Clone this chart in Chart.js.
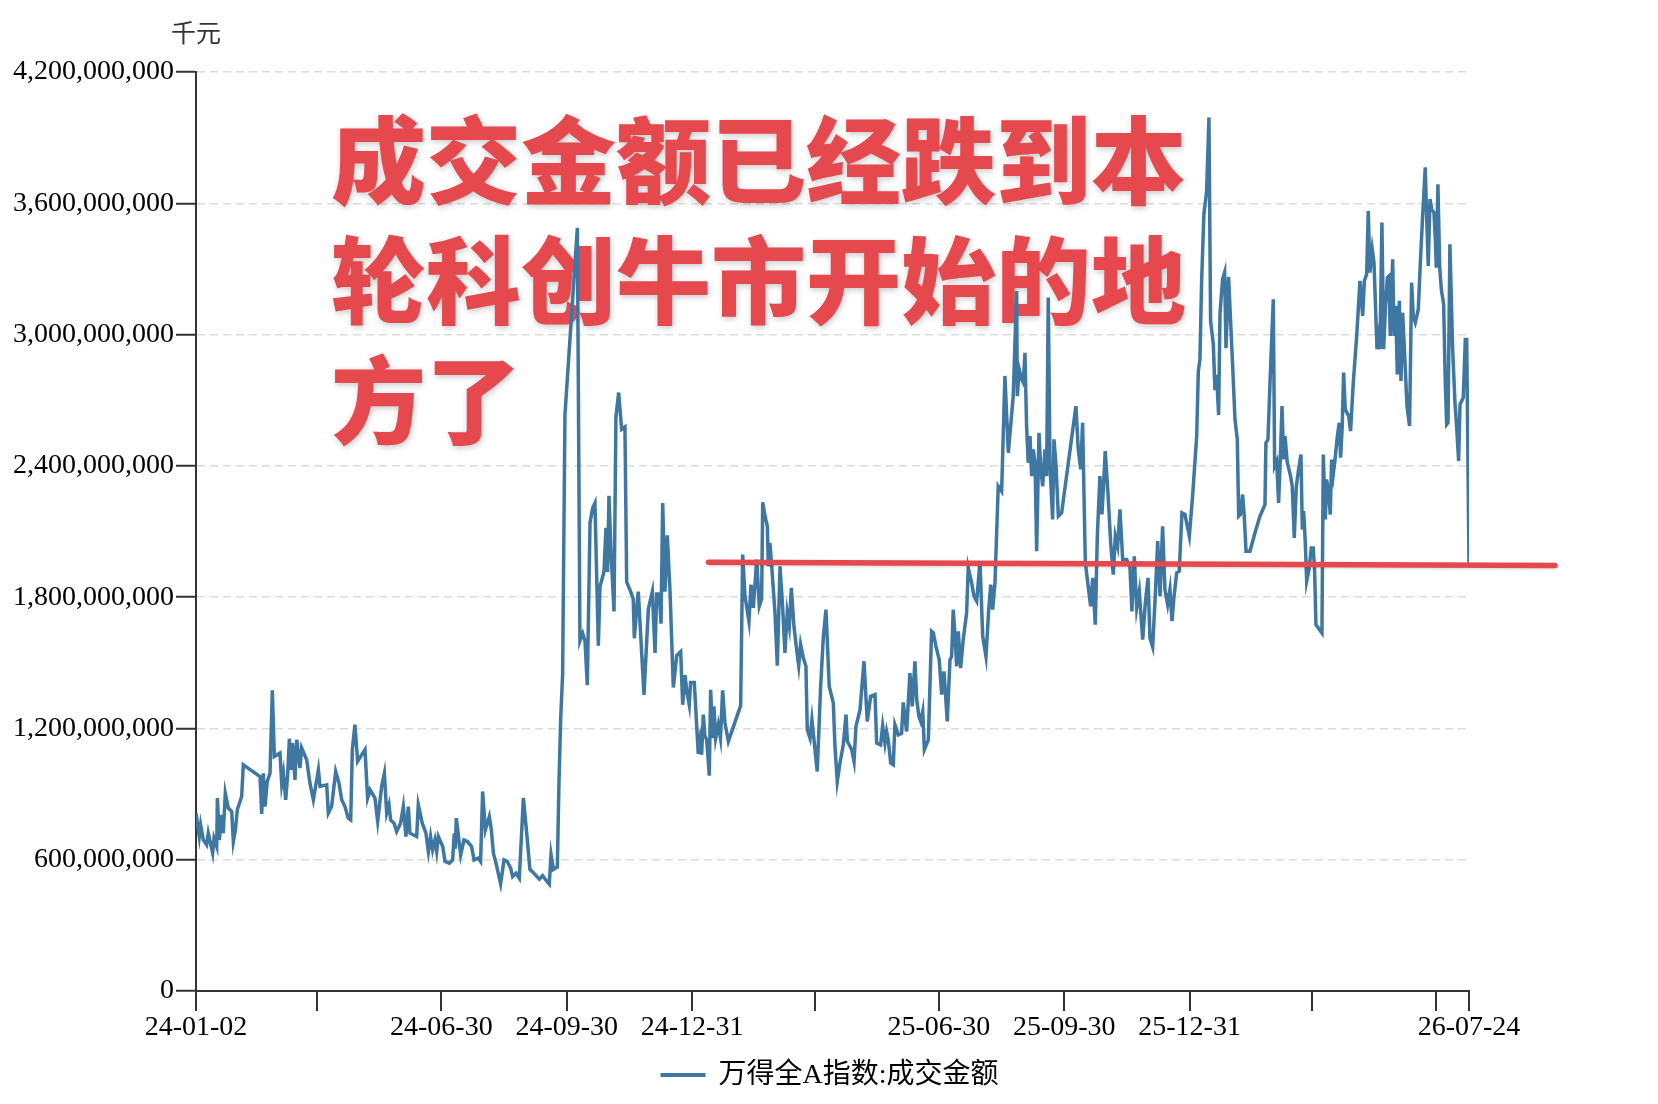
<!DOCTYPE html>
<html>
<head>
<meta charset="utf-8">
<script src="https://cdn.jsdelivr.net/npm/chart.js@4.4.1/dist/chart.umd.min.js"></script>
<style>
html,body{margin:0;padding:0;background:#ffffff;}
#wrap{width:1658px;height:1104px;position:relative;}
</style>
</head>
<body>
<div id="wrap"><canvas id="c" width="1658" height="1104"></canvas></div>
<script>
// ---- data (x = calendar days since 2024-01-02, y = 千元) ----
const startDate = '2024-01-02';
const tradeDays = [
0,2.4,3.4,5.4,7.8,9,12.2,13.2,15.2,15.7,17.1,18.8,20,21.5,23.7,26.2,27.4,28.9,30.3,33.5,34.7,47,48.2,49.4,50.6,52.3,54.3,56,57.5,61.6,62.9,64.1,65.8,67.3,68.5,69.7,70.9,72.6,73.9,76.3,77.5,81.2,83.6,86.1,89.8,91,95.9,97.1,99.5,102.5,104.9,106.9,109.3,111.7,113.5,114.7,116.6,118.6,124,125.9,127.7,131.3,133.3,136.2,138.2,139.9,141.6,142.8,145.3,147.2,150.1,152.1,154,155.8,157,161.9,163.1,166,168.7,170.5,172.1,173.6,175.3,176.6,177.8,181,182.7,185.9,188.3,189.5,190.3,191,194.2,196.6,199.1,202.2,204,207.1,208.8,210.3,212.3,215.2,216.7,218.2,220.1,223.5,226,228.4,230.9,232.3,234.8,237.2,
240.2,242.6,245,248.7,251.9,254.3,256.8,259.2,260.5,262.2,265.1,266.3,267.6,269,270.7,279.8,281.7,283.7,285.4,287.1,289.1,291,292.7,295.2,296.4,299.3,300.8,302,303,304.5,306.7,308.1,310.1,312.3,314.7,316,318.9,320.8,321.6,323.3,324.5,326.3,328.7,330.7,331.9,334.8,336.8,338,339.9,341.2,342.4,344.1,345.8,347.8,350.2,352.7,355.6,357.1,358.8,360,361.9,362.9,365.6,368.5,
369.8,371,372.2,373.4,374.7,376.6,377.6,379.1,380,381.3,383.2,384.8,386.4,388.1,390.6,399.6,401.1,402.8,405.7,407.2,408.9,411.4,413.3,415,415.8,417.5,419.2,419.9,421.1,422.4,424.8,426.5,428.5,430.4,432.1,433.8,435.3,436.8,438.7,440.7,442.2,443.6,445.6,447.5,448.5,450.5,451.9,455.8,458.3,460.3,462.2,464.6,467.6,468.8,470.5,472.5,474.9,476.9,477.9,481.1,482.8,484.2,487.2,490.1,492.5,495,498.2,499.4,502.3,503.8,505.5,506.7,507.9,509.7,511.6,512.8,515.3,517.7,518.9,521.4,523.8,525.5,527.5,528.8,530.4,531.7,533.2,534.4,537.3,539.7,541,542.9,545.3,547.1,548.8,551.2,553.2,554.4,555.6,556.9,558.1,559.3,561,562.9,565.4,566.6,569.1,570.8,572.8,575.2,577.2,579.6,581.6,583.1,584.5,586.2,588.6,
591.1,593.5,596,599.6,602.1,602.6,604,605.8,607,608.2,609.4,610.6,611.9,613.1,614.3,615.6,616.8,618.5,619.7,621.2,622.9,624.1,625.3,626.6,628.5,629.5,631,632.7,635.1,645.6,647.3,649.1,650.5,652.5,656.4,657.9,659.8,661.3,663.2,664.7,666.2,667.1,669.1,671.1,673,674.5,676.2,677.9,679.9,682.8,685.2,686.7,688.4,690.2,692.1,694.6,696.5,698.5,699.9,701.9,703.8,705.6,707.3,709.2,710.9,712.9,714.6,716.1,717.5,719.5,721.4,723.4,725.6,728.8,731.2,734.2,735.4,736.6,737.8,
739.5,741.5,743.2,744.4,746.4,747.6,748.8,750.3,751.3,753.2,754.7,755.7,757.6,
760.6,762.3,764,765,766.2,767.9,769.1,770.4,773.3,777,780.6,784.3,785,786.5,788,790.4,791.4,792.9,794.3,795.6,796.8,798,799,800.7,803.1,804.3,805.8,807.3,809,810.7,811.7,812.7,813.9,814.9,816.6,818.3,819.7,820.7,821.7,824.2,826.1,827.1,828.6,829.5,831,832.2,833.2,834.4,835.7,837.4,838.8,839.8,841,842,843.2,845.7,847.1,849.1,851.6,854,856,857.2,858.9,860.1,861.3,863,864.3,866.5,867.7,868.7,870.1,871.4,872.6,874.1,875.3,876.2,878,879,880.2,881.4,882.9,884.1,885.3,886.5,888.5,890.4,891.9,893.1,894.6,896.8,898.3,900,901.9,902.9,904.1,905.4,906.6,908.3,909.3,910,911.2,912.5,913.7,915.4,916.6,917.6,918.6,920,922,923.7,924.9,926.4,927.4,929.8,931.3,932.3,934
];
const turnover = [
813000000,706000000,759000000,690000000,668000000,721000000,630000000,698000000,660000000,882000000,690000000,805000000,721000000,904000000,836000000,820000000,683000000,736000000,828000000,889000000,1034000000,980000000,809000000,995000000,843000000,958000000,995000000,1374000000,1072000000,1088000000,947000000,995000000,874000000,995000000,1153000000,1011000000,1133000000,965000000,1148000000,1019000000,1111000000,1057000000,950000000,874000000,1011000000,935000000,942000000,813000000,843000000,1003000000,950000000,874000000,843000000,790000000,782000000,1103000000,1217000000,1050000000,1103000000,882000000,920000000,882000000,775000000,935000000,995000000,813000000,851000000,782000000,767000000,729000000,767000000,843000000,706000000,843000000,721000000,706000000,851000000,767000000,721000000,637000000,706000000,645000000,690000000,637000000,706000000,660000000,592000000,584000000,599000000,720000000,650000000,790000000,622000000,690000000,683000000,660000000,599000000,607000000,592000000,912000000,736000000,797000000,736000000,630000000,584000000,490000000,599000000,592000000,561000000,523000000,538000000,515000000,
882000000,724000000,556000000,533000000,511000000,527000000,506000000,488000000,623000000,556000000,567000000,950000000,1250000000,1450000000,2634000000,3488000000,1600000000,1634000000,1600000000,1398000000,2140000000,2207000000,2230000000,1578000000,1848000000,1915000000,2117000000,1915000000,2263000000,2005000000,1735000000,2623000000,2735000000,2567000000,2578000000,1870000000,1825000000,1792000000,1612000000,1747000000,1825000000,1623000000,1353000000,1600000000,1747000000,1825000000,1545000000,1814000000,1814000000,1679000000,2230000000,1825000000,2083000000,1825000000,1387000000,1533000000,1551000000,1308000000,1443000000,1375000000,1308000000,1410000000,1410000000,1084000000,
1148000000,1080000000,1263000000,1164000000,1148000000,984000000,1377000000,1155000000,1301000000,1155000000,1217000000,1155000000,1374000000,1225000000,1141000000,1304000000,1995000000,1804000000,1690000000,1857000000,1751000000,1972000000,1759000000,1792000000,2234000000,2170000000,2124000000,1941000000,2048000000,1941000000,1728000000,1487000000,1941000000,1758000000,1545000000,1728000000,1667000000,1842000000,1667000000,1560000000,1487000000,1583000000,1522000000,1484000000,1194000000,1155000000,1240000000,1003000000,1392000000,1621000000,1743000000,1392000000,1316000000,1118000000,958000000,1042000000,1125000000,1263000000,1141000000,1103000000,1049000000,1209000000,1286000000,1507000000,1232000000,1347000000,1355000000,1133000000,1125000000,1212000000,1133000000,1186000000,1148000000,1042000000,1034000000,1217000000,1171000000,1178000000,1319000000,1186000000,1453000000,1301000000,1507000000,1331000000,1255000000,1232000000,1278000000,1103000000,1148000000,1644000000,1637000000,1575000000,1514000000,1355000000,1461000000,1232000000,1514000000,1529000000,1743000000,1621000000,1484000000,1644000000,1476000000,1606000000,1728000000,1934000000,1865000000,1804000000,1781000000,1964000000,1621000000,1529000000,1743000000,1857000000,1743000000,1865000000,2307000000,
2284000000,2811000000,2460000000,2719000000,3199000000,2719000000,2841000000,2795000000,2780000000,2917000000,2582000000,2414000000,2536000000,2353000000,2475000000,2414000000,2010000000,2551000000,2399000000,2307000000,2475000000,2353000000,3169000000,2399000000,2155000000,2521000000,2399000000,2170000000,2185000000,2673000000,2475000000,2384000000,2597000000,1957000000,1758000000,1888000000,1674000000,2079000000,2353000000,2178000000,2353000000,2467000000,2277000000,2048000000,1903000000,2079000000,2033000000,2201000000,1972000000,1972000000,1941000000,1735000000,1987000000,1751000000,1827000000,1606000000,1774000000,1888000000,1613000000,1572000000,1804000000,2056000000,1804000000,2124000000,1835000000,1766000000,1835000000,1690000000,1797000000,1911000000,1919000000,2185000000,2178000000,2079000000,2262000000,2536000000,2833000000,2887000000,3238000000,
3551000000,3656000000,3992000000,3061000000,2956000000,2746000000,2816000000,2632000000,3096000000,3253000000,3285000000,2938000000,3264000000,
2856000000,2612000000,2521000000,2170000000,2177000000,2269000000,2170000000,2010000000,2010000000,2094000000,2170000000,2223000000,2505000000,2521000000,2780000000,3161000000,2399000000,2421000000,2231000000,2437000000,2673000000,2429000000,2536000000,2414000000,2353000000,2307000000,2071000000,2307000000,2384000000,2452000000,2109000000,2193000000,2048000000,1873000000,1926000000,2025000000,2025000000,1926000000,1674000000,1652000000,1636000000,2452000000,2155000000,2338000000,2277000000,2177000000,2429000000,2361000000,2429000000,2536000000,2597000000,2437000000,2582000000,2826000000,2658000000,2628000000,2559000000,2780000000,2994000000,3245000000,3085000000,3245000000,3276000000,3565000000,3283000000,3390000000,3329000000,2933000000,2994000000,2933000000,3512000000,2933000000,3116000000,3261000000,3268000000,2994000000,3344000000,2994000000,3131000000,2818000000,3154000000,2788000000,3100000000,2948000000,2673000000,2582000000,3238000000,3085000000,3055000000,3116000000,3329000000,3543000000,3764000000,3543000000,3314000000,3619000000,3573000000,3558000000,3436000000,3306000000,3687000000,3306000000,3207000000,3138000000,2780000000,2589000000,2597000000,3413000000,2933000000,2689000000,2582000000,2422000000,2681000000,2712000000,2978000000,2978000000,1957000000
];
const seriesName = '万得全A指数:成交金额';
const unitLabel = '千元';
const xTickDays = [0, 89, 180, 272, 364, 454, 545, 637, 729, 819, 910, 934];
const xTickLabels = ['24-01-02', '', '24-06-30', '24-09-30', '24-12-31', '', '25-06-30', '25-09-30', '25-12-31', '', '', '26-07-24'];
const yTickValues = [0, 600000000, 1200000000, 1800000000, 2400000000, 3000000000, 3600000000, 4200000000];
const noteLines = ['成交金额已经跌到本', '轮科创牛市开始的地', '方了'];
const refLineDays = [376, 997];
const refLineValues = [1960000000, 1945000000];

// ---- styles ----
const lineBlue = '#3e77a1';
const noteRed = '#e5484d';
const serif = '"Liberation Serif", "Times New Roman", "Noto Sans CJK SC", serif';
const cjk = '"Noto Sans CJK SC", "Noto Sans CJK JP", sans-serif';

const overlay = {
  id: 'overlay',
  beforeDatasetsDraw(chart) {
    const {ctx, chartArea} = chart;
    ctx.save();
    ctx.font = '900 95px ' + cjk;
    ctx.fillStyle = noteRed;
    ctx.textAlign = 'left';
    ctx.textBaseline = 'middle';
    ctx.shadowColor = 'rgba(0,0,0,0.22)';
    ctx.shadowBlur = 6;
    ctx.shadowOffsetX = 1;
    ctx.shadowOffsetY = 2;
    const x0 = chartArea.left + 135;
    const y0 = chartArea.top + 89;
    noteLines.forEach((t, i) => ctx.fillText(t, x0, y0 + i * 120));
    ctx.restore();
  },
  afterDatasetsDraw(chart) {
    const {ctx, scales} = chart;
    const xs = scales.x, ys = scales.y;
    ctx.save();
    ctx.strokeStyle = noteRed;
    ctx.lineWidth = 5.5;
    ctx.lineCap = 'round';
    ctx.shadowColor = 'rgba(0,0,0,0.18)';
    ctx.shadowBlur = 3;
    ctx.shadowOffsetY = 1;
    ctx.beginPath();
    refLineDays.forEach((d, i) => {
      const px = xs.getPixelForValue(d), py = ys.getPixelForValue(refLineValues[i]);
      if (i === 0) ctx.moveTo(px, py); else ctx.lineTo(px, py);
    });
    ctx.stroke();
    ctx.restore();
  },
  afterDraw(chart) {
    const {ctx, chartArea} = chart;
    ctx.save();
    // unit label
    ctx.font = '25px ' + cjk;
    ctx.fillStyle = '#333333';
    ctx.textAlign = 'center';
    ctx.textBaseline = 'middle';
    ctx.fillText(unitLabel, chartArea.left, 32);
    // legend
    ctx.font = '28px ' + serif;
    const tw = ctx.measureText(seriesName).width;
    const sw = 45, gap = 13;
    const total = sw + gap + tw;
    const cx = (chartArea.left + chartArea.right) / 2 - 3;
    const lx = cx - total / 2;
    const ly = 1075;
    ctx.strokeStyle = lineBlue;
    ctx.lineWidth = 4;
    ctx.beginPath();
    ctx.moveTo(lx, ly);
    ctx.lineTo(lx + sw, ly);
    ctx.stroke();
    ctx.fillStyle = '#000000';
    ctx.textAlign = 'left';
    ctx.fillText(seriesName, lx + sw + gap, ly + 1);
    ctx.restore();
  }
};

new Chart(document.getElementById('c'), {
  type: 'line',
  data: {
    datasets: [{
      label: seriesName,
      data: tradeDays.map((d, i) => ({x: d, y: turnover[i]})),
      borderColor: lineBlue,
      backgroundColor: lineBlue,
      borderWidth: 3.5,
      pointRadius: 0,
      pointHoverRadius: 0,
      tension: 0,
      fill: false
    }]
  },
  options: {
    responsive: false,
    animation: false,
    devicePixelRatio: 1,
    layout: {padding: {left: 0, top: 72, right: 189, bottom: 0}},
    plugins: {legend: {display: false}, tooltip: {enabled: false}},
    scales: {
      x: {
        type: 'linear',
        min: 0,
        max: 934,
        afterBuildTicks: (axis) => { axis.ticks = xTickDays.map(v => ({value: v})); },
        afterFit: (axis) => { axis.height = 113; },
        ticks: {
          autoSkip: false, maxRotation: 0, minRotation: 0, padding: 0,
          color: '#000000',
          font: {family: serif, size: 28},
          callback: (v) => { const k = xTickDays.indexOf(v); return k >= 0 ? xTickLabels[k] : ''; }
        },
        grid: {drawOnChartArea: false, color: '#333333', tickColor: '#333333', tickWidth: 2, tickLength: 20, lineWidth: 2},
        border: {color: '#333333', width: 2}
      },
      y: {
        min: 0,
        max: 4200000000,
        afterBuildTicks: (axis) => { axis.ticks = yTickValues.map(v => ({value: v})); },
        afterFit: (axis) => { axis.width = 196; },
        ticks: {
          padding: 2,
          color: '#000000',
          font: {family: serif, size: 28},
          callback: (v) => Number(v).toLocaleString('en-US')
        },
        grid: {color: '#dcdcdc', lineWidth: 1.5, tickColor: '#333333', tickWidth: 2, tickLength: 20},
        border: {color: '#333333', width: 2, dash: [8, 5]}
      }
    }
  },
  plugins: [overlay]
});
</script>
</body>
</html>
